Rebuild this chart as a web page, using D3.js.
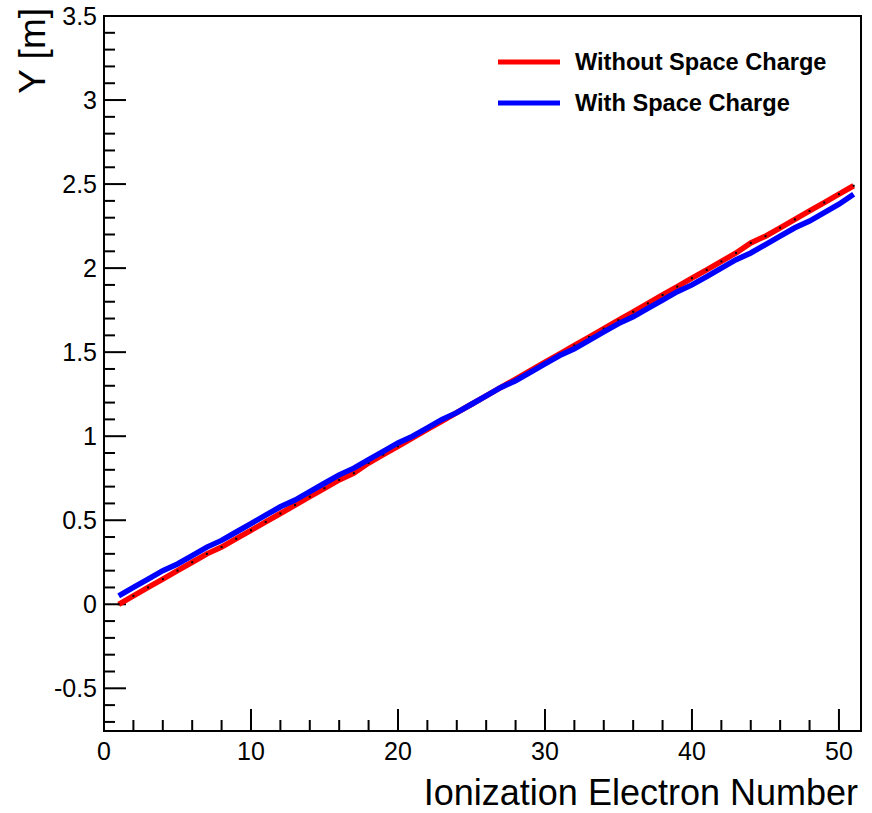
<!DOCTYPE html>
<html lang="en">
<head>
  <meta charset="UTF-8">
  <title>Y vs Ionization Electron Number</title>
  <style>
    body { margin: 0; background: #fff; }
    svg { display: block; }
    text { font-family: "Liberation Sans", Arial, sans-serif; fill: #000; }
  </style>
</head>
<body>
  <svg class="chart"></svg>
  <script src="https://cdn.jsdelivr.net/npm/d3@7"></script>
  <script>
    var w = 872, h = 813;

    // electron index 1..51
    var electrons = d3.range(1, 52);
    var yNoSC = [0.00, 0.05, 0.10, 0.15, 0.20, 0.25, 0.30, 0.34, 0.39, 0.44,
                 0.49, 0.54, 0.59, 0.64, 0.69, 0.74, 0.78, 0.84, 0.89, 0.94,
                 0.99, 1.04, 1.09, 1.14, 1.19, 1.24, 1.29, 1.34, 1.39, 1.44,
                 1.49, 1.54, 1.59, 1.64, 1.69, 1.74, 1.79, 1.84, 1.89, 1.94,
                 1.99, 2.04, 2.09, 2.15, 2.19, 2.24, 2.29, 2.34, 2.39, 2.44, 2.49];
    var ySC =   [0.05, 0.10, 0.15, 0.20, 0.24, 0.29, 0.34, 0.38, 0.43, 0.48,
                 0.53, 0.58, 0.62, 0.67, 0.72, 0.77, 0.81, 0.86, 0.91, 0.96,
                 1.00, 1.05, 1.10, 1.14, 1.19, 1.24, 1.29, 1.33, 1.38, 1.43,
                 1.48, 1.52, 1.57, 1.62, 1.67, 1.71, 1.76, 1.81, 1.86, 1.90,
                 1.95, 2.00, 2.05, 2.09, 2.14, 2.19, 2.24, 2.28, 2.33, 2.38, 2.44];
    var xTicks = [0, 10, 20, 30, 40, 50];
    var yTicks = [-0.5, 0, 0.5, 1, 1.5, 2, 2.5, 3, 3.5];
    var seriesNames = ["Without Space Charge", "With Space Charge"];
    var seriesColors = ["#ff0000", "#0000ff"];

    // frame edges (note: "top" is reserved on window)
    var fLeft = 104, fRight = 861, fTop = 16, fBottom = 731;

    var x = d3.scaleLinear().domain([0, 51.5]).range([fLeft, fRight]);
    var y = d3.scaleLinear().domain([-0.754, 3.5]).range([fBottom, fTop]);

    var svg = d3.select(".chart").attr("width", w).attr("height", h);

    // frame
    svg.append("rect")
      .attr("x", fLeft).attr("y", fTop)
      .attr("width", fRight - fLeft).attr("height", fBottom - fTop)
      .attr("fill", "none").attr("stroke", "#000").attr("stroke-width", 2);

    // x ticks: major every 10, minor every 2
    var xMinor = d3.range(0, 52, 2).filter(d => xTicks.indexOf(d) < 0);
    svg.selectAll(".xmin").data(xMinor).enter().append("line")
      .attr("x1", d => x(d)).attr("x2", d => x(d))
      .attr("y1", fBottom).attr("y2", fBottom - 11)
      .attr("stroke", "#000").attr("stroke-width", 2);
    svg.selectAll(".xmaj").data(xTicks).enter().append("line")
      .attr("x1", d => x(d)).attr("x2", d => x(d))
      .attr("y1", fBottom).attr("y2", fBottom - 22)
      .attr("stroke", "#000").attr("stroke-width", 2);
    svg.selectAll(".xlab").data(xTicks).enter().append("text")
      .attr("x", d => x(d)).attr("y", 760)
      .attr("text-anchor", "middle").attr("font-size", 25)
      .text(d => d);

    // y ticks: major every 0.5, minor every 0.1
    var yMinor = d3.range(-7, 35).map(d => d / 10).filter(d => Math.round(d * 10) % 5 != 0);
    svg.selectAll(".ymin").data(yMinor).enter().append("line")
      .attr("x1", fLeft).attr("x2", fLeft + 11)
      .attr("y1", d => y(d)).attr("y2", d => y(d))
      .attr("stroke", "#000").attr("stroke-width", 2);
    svg.selectAll(".ymaj").data(yTicks).enter().append("line")
      .attr("x1", fLeft).attr("x2", fLeft + 22)
      .attr("y1", d => y(d)).attr("y2", d => y(d))
      .attr("stroke", "#000").attr("stroke-width", 2);
    svg.selectAll(".ylab").data(yTicks).enter().append("text")
      .attr("x", 97).attr("y", d => y(d) + 9)
      .attr("text-anchor", "end").attr("font-size", 25)
      .text(d => d);

    // axis titles
    svg.append("text")
      .attr("x", 858).attr("y", 805)
      .attr("text-anchor", "end").attr("font-size", 36)
      .text("Ionization Electron Number");
    svg.append("text")
      .attr("transform", "translate(45,8) rotate(-90)")
      .attr("text-anchor", "end").attr("font-size", 37)
      .text("Y [m]");

    // graphs
    var line = d3.line().x((d, i) => x(electrons[i])).y(d => y(d));
    svg.append("path").datum(yNoSC).attr("d", line)
      .attr("fill", "none").attr("stroke", seriesColors[0]).attr("stroke-width", 5.5);
    svg.selectAll(".dot").data(yNoSC).enter().append("rect")
      .attr("x", (d, i) => x(electrons[i]) - 1).attr("y", d => y(d) - 1)
      .attr("width", 2).attr("height", 2).attr("fill", "#000");
    svg.append("path").datum(ySC).attr("d", line)
      .attr("fill", "none").attr("stroke", seriesColors[1]).attr("stroke-width", 5.5);

    // legend
    var leg = svg.selectAll(".leg").data(seriesNames).enter().append("g")
      .attr("transform", (d, i) => `translate(0,${62 + i * 41})`);
    leg.append("line")
      .attr("x1", 498).attr("x2", 560).attr("y1", 0).attr("y2", 0)
      .attr("stroke", (d, i) => seriesColors[i]).attr("stroke-width", 5);
    leg.append("text")
      .attr("x", 575).attr("y", 8)
      .attr("font-size", 23.6).attr("font-weight", "bold")
      .text(d => d);
  </script>
</body>
</html>
